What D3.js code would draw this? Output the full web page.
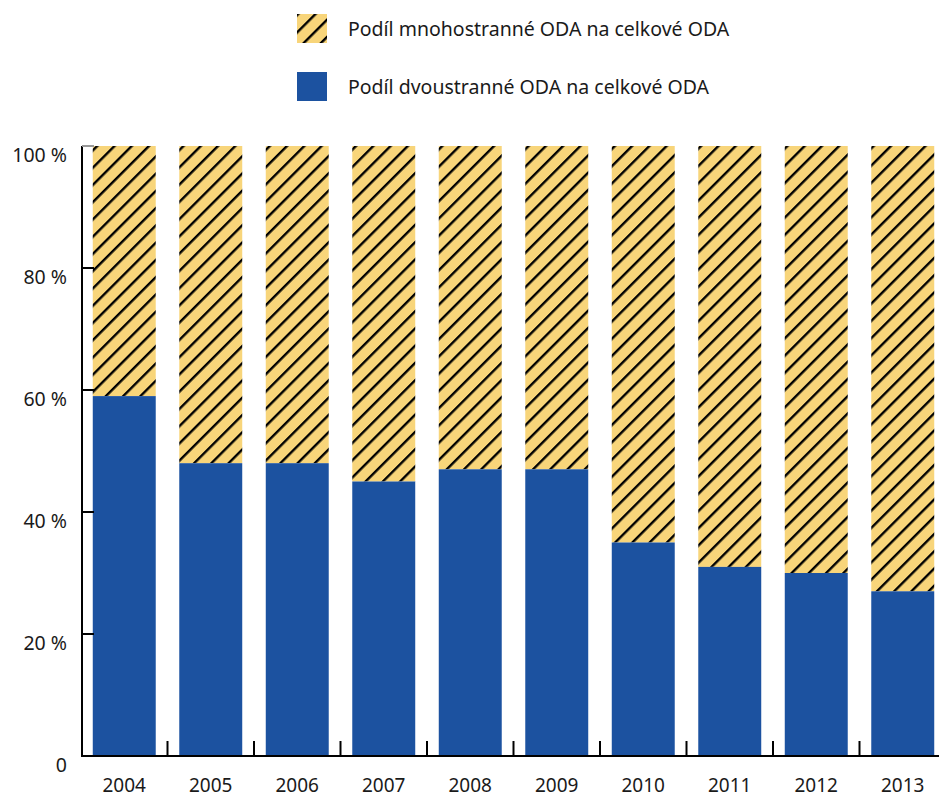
<!DOCTYPE html>
<html>
<head>
<meta charset="utf-8">
<script src="https://cdn.jsdelivr.net/npm/d3@7"></script>
<style>
  body { margin: 0; background: #fff; }
  text { font-family: "Noto Sans", sans-serif; fill: #1a1a1a; }
</style>
</head>
<body>
<div id="chart"></div>
<script>
// years and shares (%)
var years = ["2004", "2005", "2006", "2007", "2008", "2009", "2010", "2011", "2012", "2013"];
var bilateral = [59, 48, 48, 45, 47, 47, 35, 31, 30, 27];
var multilateral = [41, 52, 52, 55, 53, 53, 65, 69, 70, 73];
var yTicks = [0, 20, 40, 60, 80, 100];
var legendLabels = ["Podíl mnohostranné ODA na celkové ODA", "Podíl dvoustranné ODA na celkové ODA"];

var width = 939, height = 799;
var blue = "#1c52a0", yellow = "#f8d57a";

var svg = d3.select("#chart")
    .append("svg")
    .attr("width", width)
    .attr("height", height);

// hatch pattern for the multilateral part
var pat = svg.append("defs").append("pattern")
    .attr("id", "hatch")
    .attr("patternUnits", "userSpaceOnUse")
    .attr("width", 12.2)
    .attr("height", 12.2)
    .attr("patternTransform", "rotate(45)");
pat.append("rect").attr("width", 12.2).attr("height", 12.2).attr("fill", yellow);
pat.append("line")
    .attr("x1", 1.2).attr("y1", 0).attr("x2", 1.2).attr("y2", 12.2)
    .attr("stroke", "#000").attr("stroke-width", 2.4);

var x = d3.scaleBand()
    .domain(years)
    .range([81, 946])
    .paddingInner(0.272)
    .paddingOuter(0.136);

var y = d3.scaleLinear()
    .domain([0, 100])
    .range([756, 146]);

// stacked data
var rows = years.map(function(yr, i) {
  return { year: yr, bi: bilateral[i], multi: multilateral[i] };
});

svg.append("g").selectAll("rect")
    .data(rows)
  .enter().append("rect")
    .attr("x", function(d) { return x(d.year); })
    .attr("width", x.bandwidth())
    .attr("y", function(d) { return y(d.bi + d.multi); })
    .attr("height", function(d) { return y(d.bi) - y(d.bi + d.multi); })
    .attr("fill", "url(#hatch)");

svg.append("g").selectAll("rect")
    .data(rows)
  .enter().append("rect")
    .attr("x", function(d) { return x(d.year); })
    .attr("width", x.bandwidth())
    .attr("y", function(d) { return y(d.bi); })
    .attr("height", function(d) { return y(0) - y(d.bi); })
    .attr("fill", blue);

// y axis
var yAxis = svg.append("g");
yAxis.append("line")
    .attr("x1", 82).attr("x2", 82)
    .attr("y1", y(100)).attr("y2", y(0))
    .attr("stroke", "#000").attr("stroke-width", 2);
yAxis.selectAll("line.tick")
    .data(yTicks.filter(function(t) { return t > 0; }))
  .enter().append("line")
    .attr("class", "tick")
    .attr("x1", 82).attr("x2", 94)
    .attr("y1", function(d) { return y(d); })
    .attr("y2", function(d) { return y(d); })
    .attr("stroke", function(d) { return d === 100 ? "#999" : "#000"; })
    .attr("stroke-width", 2);
yAxis.selectAll("text")
    .data(yTicks)
  .enter().append("text")
    .attr("x", 67)
    .attr("y", function(d) { return y(d) + 16; })
    .attr("text-anchor", "end")
    .style("font-size", "19.5px")
    .text(function(d) { return d === 0 ? "0" : d + " %"; });

// x axis
var xAxis = svg.append("g");
xAxis.append("line")
    .attr("x1", 81).attr("x2", 939)
    .attr("y1", y(0)).attr("y2", y(0))
    .attr("stroke", "#000").attr("stroke-width", 2);
xAxis.selectAll("line.tick")
    .data(years.slice(1))
  .enter().append("line")
    .attr("class", "tick")
    .attr("x1", function(d) { return x(d) - x.step() * x.paddingInner() / 2; })
    .attr("x2", function(d) { return x(d) - x.step() * x.paddingInner() / 2; })
    .attr("y1", y(0) - 15).attr("y2", y(0))
    .attr("stroke", "#000").attr("stroke-width", 2);
xAxis.selectAll("text")
    .data(years)
  .enter().append("text")
    .attr("x", function(d) { return x(d) + x.bandwidth() / 2; })
    .attr("y", 792)
    .attr("text-anchor", "middle")
    .style("font-size", "19px")
    .text(function(d) { return d; });

// legend
var legend = svg.append("g");
var fills = ["url(#hatch)", blue];
legendLabels.forEach(function(lab, i) {
  legend.append("rect")
      .attr("x", 297).attr("y", 14 + i * 58)
      .attr("width", 30).attr("height", 29)
      .attr("fill", fills[i]);
  legend.append("text")
      .attr("x", 348).attr("y", 36 + i * 58)
      .style("font-size", "19.5px")
      .text(lab);
});
</script>
</body>
</html>
